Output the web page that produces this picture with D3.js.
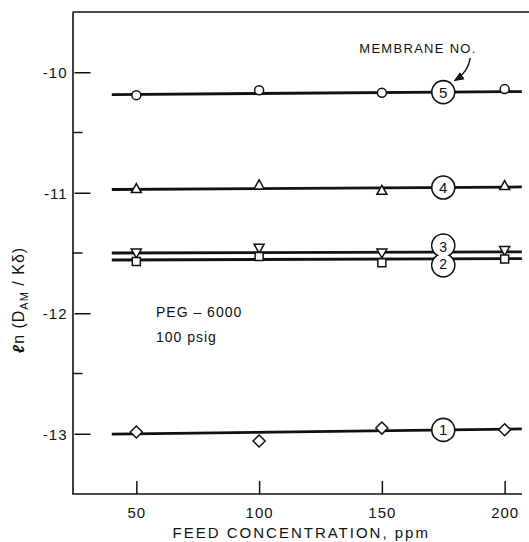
<!DOCTYPE html>
<html>
<head>
<meta charset="utf-8">
<script src="https://d3js.org/d3.v7.min.js"></script>
<style>
    html, body {
        margin: 0;
        padding: 0;
        background: #fff;
    }
    svg {
        display: block;
        font-family: 'Liberation Sans', Arial, sans-serif;
    }
    .domain { stroke: #111; stroke-width: 1.6px; }
    .tick line { stroke: #111; stroke-width: 1.5px; }
    .tick text { font-size: 15px; fill: #111; letter-spacing: 1px; }
    .fit { stroke: #111; stroke-width: 2.8px; fill: none; }
    .pt { fill: #fff; stroke: #111; stroke-width: 1.5px; }
</style>
</head>
<body>
<script>
var width = 529, height = 542;

// feed concentrations, ppm
var feed = [50, 100, 150, 200];

// ln(D_AM/K delta), one array per membrane
var m5 = [-10.19, -10.15, -10.17, -10.14];
var m4 = [-10.965, -10.935, -10.98, -10.94];
var m3 = [-11.5, -11.46, -11.5, -11.48];
var m2 = [-11.57, -11.53, -11.58, -11.55];
var m1 = [-12.986, -13.06, -12.953, -12.967];

// straight fitted lines, drawn from 40 to 207 ppm
var lineFrom = [40, 207];
var fit5 = [-10.185, -10.16];
var fit4 = [-10.973, -10.952];
var fit3 = [-11.5, -11.49];
var fit2 = [-11.558, -11.546];
var fit1 = [-13.003, -12.96];

var labelAt = 175;   // ppm where the membrane numbers sit

var yTicks = [-10, -11, -12, -13];
var yMinor = [-10.5, -11.5, -12.5];
var xTicks = [50, 100, 150, 200];

var series = [
    { no: 5, vals: m5, fit: fit5, shape: "circle" },
    { no: 4, vals: m4, fit: fit4, shape: "triangle" },
    { no: 3, vals: m3, fit: fit3, shape: "down" },
    { no: 2, vals: m2, fit: fit2, shape: "square" },
    { no: 1, vals: m1, fit: fit1, shape: "diamond" }
];

var x = d3.scaleLinear().domain([24, 210]).range([72.5, 529.2]);
var y = d3.scaleLinear().domain([-13.5, -9.5]).range([494, 12]);

var svg = d3.select("body").append("svg")
    .attr("width", width)
    .attr("height", height);

// frame: top line and axes
svg.append("line")
    .attr("x1", x(24)).attr("x2", width)
    .attr("y1", y(-9.5)).attr("y2", y(-9.5))
    .attr("stroke", "#111").attr("stroke-width", 1.6);

var yAxis = svg.append("g")
    .attr("transform", "translate(" + x(24) + ",0)")
    .call(d3.axisLeft(y).tickValues(yTicks).tickSizeInner(-18).tickSizeOuter(0)
        .tickFormat(function(d) { return "-" + Math.abs(d); }));
yAxis.selectAll(".tick line").attr("x1", 2);
yAxis.selectAll(".tick text").attr("x", -5).attr("dy", "0.36em");

svg.append("g")
    .attr("transform", "translate(" + x(24) + ",0)")
    .selectAll("line")
    .data(yMinor)
    .enter().append("line")
    .attr("x1", 0).attr("x2", 10)
    .attr("y1", function(d) { return y(d); })
    .attr("y2", function(d) { return y(d); })
    .attr("stroke", "#111").attr("stroke-width", 1.5);

var xAxis = svg.append("g")
    .attr("transform", "translate(0," + y(-13.5) + ")")
    .call(d3.axisBottom(x).tickValues(xTicks).tickSizeInner(-13).tickSizeOuter(0));
xAxis.select(".domain").attr("d", "M" + x(24) + ",0H522");
xAxis.selectAll(".tick text").attr("y", 13).attr("dy", "0.71em");

// axis titles
svg.append("text")
    .attr("x", (x(24) + 522) / 2 + 4)
    .attr("y", 538)
    .attr("text-anchor", "middle")
    .style("font-size", "15px")
    .style("letter-spacing", "2px")
    .attr("fill", "#111")
    .text("FEED CONCENTRATION, ppm");

var yt = svg.append("text")
    .attr("transform", "translate(24,300) rotate(-90)")
    .attr("text-anchor", "middle")
    .style("font-size", "16px")
    .style("letter-spacing", "1px")
    .attr("fill", "#111");
yt.append("tspan").style("font-style", "italic").style("font-weight", "bold").text("\u2113");
yt.append("tspan").text("n (D");
yt.append("tspan").attr("dy", 4).style("font-size", "11px").text("AM");
yt.append("tspan").attr("dy", -4).text(" / K\u03b4)");

// fitted lines
var line = d3.line()
    .x(function(d) { return x(d[0]); })
    .y(function(d) { return y(d[1]); });

svg.selectAll(".fit")
    .data(series)
    .enter().append("path")
    .attr("class", "fit")
    .attr("d", function(s) { return line(lineFrom.map(function(f, i) { return [f, s.fit[i]]; })); });

// data markers
function marker(shape, px, py) {
    var r = 4.5;
    if (shape == "circle") {
        return "M" + (px + r) + "," + py + "A" + r + "," + r + " 0 1,1 " + (px - r) + "," + py +
            "A" + r + "," + r + " 0 1,1 " + (px + r) + "," + py + "Z";
    }
    if (shape == "triangle") {
        return "M" + px + "," + (py - 5) + "L" + (px + 5) + "," + (py + 4) + "L" + (px - 5) + "," + (py + 4) + "Z";
    }
    if (shape == "down") {
        return "M" + px + "," + (py + 5) + "L" + (px + 5) + "," + (py - 4) + "L" + (px - 5) + "," + (py - 4) + "Z";
    }
    if (shape == "square") {
        return "M" + (px - 4) + "," + (py - 4) + "h8v8h-8Z";
    }
    return "M" + px + "," + (py - 6) + "L" + (px + 6) + "," + py + "L" + px + "," + (py + 6) + "L" + (px - 6) + "," + py + "Z";
}

series.forEach(function(s) {
    svg.append("g").selectAll("path")
        .data(s.vals)
        .enter().append("path")
        .attr("class", "pt")
        .attr("d", function(v, i) { return marker(s.shape, x(feed[i]), y(v)); });
});

// membrane number labels on the lines
function fitAt(s, f) {
    var t = (f - lineFrom[0]) / (lineFrom[1] - lineFrom[0]);
    return s.fit[0] + t * (s.fit[1] - s.fit[0]);
}
var r = 11.5;
var cx = x(labelAt);
var lab = svg.append("g");
series.forEach(function(s) {
    if (s.no == 3 || s.no == 2) return;
    var cy = y(fitAt(s, labelAt));
    lab.append("circle").attr("cx", cx).attr("cy", cy).attr("r", r)
        .attr("fill", "#fff").attr("stroke", "#111").attr("stroke-width", 1.6);
    lab.append("text").attr("x", cx).attr("y", cy).attr("dy", "0.36em")
        .attr("text-anchor", "middle").style("font-size", "15px").attr("fill", "#111")
        .text(s.no);
});

// 3 and 2 share one merged outline
var s3 = series[2], s2 = series[3];
var c3 = y(fitAt(s3, labelAt)) - 6.5, c2 = y(fitAt(s2, labelAt)) + 6.5;
[c3, c2].forEach(function(cy) {
    lab.append("circle").attr("cx", cx).attr("cy", cy).attr("r", r)
        .attr("fill", "#fff").attr("stroke", "#111").attr("stroke-width", 1.6);
});
[c3, c2].forEach(function(cy) {
    lab.append("circle").attr("cx", cx).attr("cy", cy).attr("r", r - 0.9).attr("fill", "#fff");
});
lab.append("text").attr("x", cx).attr("y", c3 + 1).attr("dy", "0.36em")
    .attr("text-anchor", "middle").style("font-size", "14px").attr("fill", "#111").text("3");
lab.append("text").attr("x", cx).attr("y", c2 - 1).attr("dy", "0.36em")
    .attr("text-anchor", "middle").style("font-size", "14px").attr("fill", "#111").text("2");

// annotation: MEMBRANE NO. with arrow to label 5
var c5y = y(fitAt(series[0], labelAt));
svg.append("text")
    .attr("x", cx - 84).attr("y", 53)
    .style("font-size", "13px").style("letter-spacing", "1.3px")
    .attr("fill", "#111")
    .text("MEMBRANE NO.");

svg.append("defs").append("marker")
    .attr("id", "arr").attr("viewBox", "0 0 10 10")
    .attr("refX", 8).attr("refY", 5)
    .attr("markerWidth", 7).attr("markerHeight", 7)
    .attr("orient", "auto")
    .append("path").attr("d", "M0,1L10,5L0,9Z").attr("fill", "#111");

svg.append("path")
    .attr("d", "M" + (cx + 27) + ",58Q" + (cx + 25) + ",72 " + (cx + 12) + "," + (c5y - 12))
    .attr("fill", "none").attr("stroke", "#111").attr("stroke-width", 1.5)
    .attr("marker-end", "url(#arr)");

// conditions
var cond = svg.append("g").style("font-size", "14px").attr("fill", "#111").style("letter-spacing", "1px");
cond.append("text").attr("x", x(58)).attr("y", 317).text("PEG \u2013 6000");
cond.append("text").attr("x", x(58)).attr("y", 342).text("100  psig");
</script>
</body>
</html>
